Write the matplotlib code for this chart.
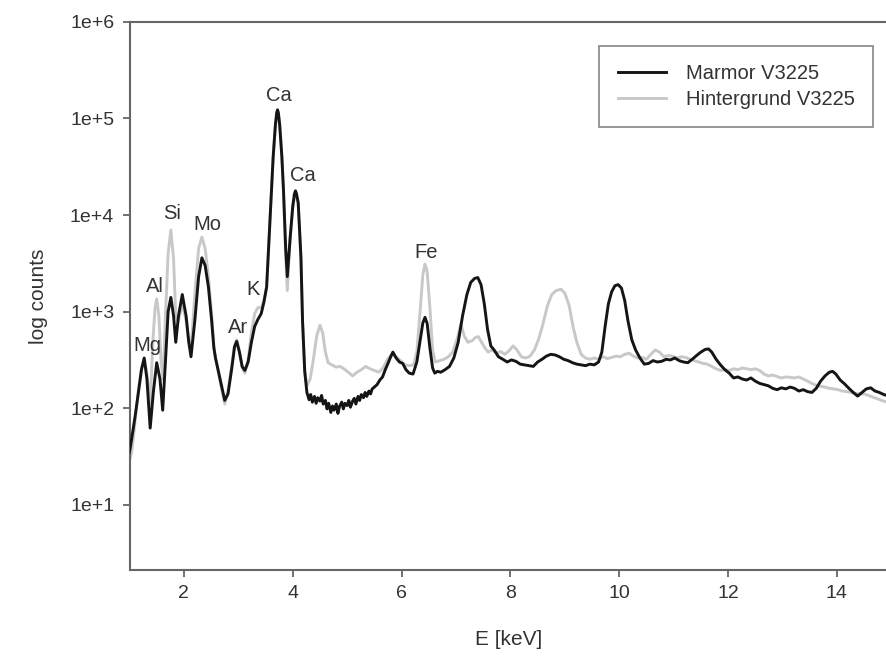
import numpy as np
import matplotlib
matplotlib.use("Agg")
import matplotlib.pyplot as plt
from matplotlib.ticker import NullLocator

plt.rcParams['font.family'] = ['Liberation Sans', 'DejaVu Sans']

# ── Spektrum Marmor V3225 ───────────────────────────────────────────
E_marmor = [
    1.00, 1.04, 1.10, 1.16, 1.22, 1.27, 1.32, 1.38, 1.44, 1.50, 1.56, 1.61,
    1.66, 1.71, 1.76, 1.81, 1.85, 1.90, 1.97, 2.04, 2.09, 2.13, 2.20, 2.27,
    2.33, 2.39, 2.45, 2.51, 2.55, 2.58, 2.62, 2.68, 2.75, 2.81, 2.88, 2.93,
    2.97, 3.02, 3.07, 3.12, 3.18, 3.24, 3.30, 3.36, 3.42, 3.47, 3.52, 3.58,
    3.64, 3.68, 3.705, 3.72, 3.735, 3.76, 3.80, 3.83, 3.87, 3.90, 3.95, 4.00,
    4.03, 4.05, 4.07, 4.10, 4.15, 4.18, 4.22, 4.26,
    4.30, 4.33, 4.36, 4.40, 4.43, 4.46, 4.50, 4.53, 4.56, 4.60, 4.63, 4.66,
    4.70, 4.73, 4.76, 4.80, 4.83, 4.86, 4.90, 4.93, 4.96, 5.00, 5.03, 5.06,
    5.10, 5.13, 5.16, 5.20, 5.23, 5.26, 5.30, 5.33, 5.36, 5.40, 5.43, 5.46,
    5.50, 5.55, 5.60, 5.65, 5.70, 5.75, 5.80,
    5.84, 5.90, 5.96, 6.02, 6.08, 6.14, 6.21, 6.28, 6.34, 6.39, 6.43, 6.47,
    6.52, 6.57, 6.61, 6.66, 6.72, 6.80, 6.88, 6.96, 7.04, 7.12, 7.20, 7.27,
    7.34, 7.40, 7.46, 7.52, 7.58, 7.64, 7.70, 7.78, 7.86, 7.94, 8.02, 8.10,
    8.18, 8.26, 8.34, 8.42, 8.50, 8.58, 8.66, 8.74, 8.82, 8.90, 8.98, 9.06,
    9.14, 9.22, 9.30, 9.38, 9.46, 9.54, 9.62, 9.68, 9.74, 9.80, 9.86, 9.92,
    9.98, 10.04, 10.10, 10.16, 10.23, 10.30, 10.38, 10.46, 10.54, 10.62,
    10.70, 10.78, 10.86, 10.94, 11.02, 11.10, 11.18, 11.26, 11.34, 11.42,
    11.50, 11.58, 11.64, 11.70, 11.78, 11.86, 11.94, 12.02, 12.10, 12.18,
    12.26, 12.34, 12.42, 12.50, 12.58, 12.66, 12.74, 12.82, 12.90, 12.98,
    13.06, 13.14, 13.22, 13.30, 13.38, 13.46, 13.54, 13.62, 13.70, 13.78,
    13.86, 13.92, 13.98, 14.06, 14.14, 14.22, 14.30, 14.38, 14.46, 14.54,
    14.62, 14.70, 14.78, 14.86, 14.92,
]
counts_marmor = [
    35, 48, 80, 140, 250, 330, 200, 62, 150, 295, 200, 95,
    300, 1000, 1400, 900, 480, 900, 1500, 900, 480, 340, 800, 2300,
    3600, 3000, 1800, 800, 420, 330, 260, 180, 120, 140, 260, 430,
    490, 380, 270, 245, 300, 480, 700, 830, 950, 1250, 1800, 8300,
    40000, 85000, 115000, 123000, 115000, 85000, 40000, 18000, 4500, 2300, 5600, 12300,
    16500, 17800, 16500, 13400, 3700, 800, 240, 145,
    122, 138, 115, 132, 112, 128, 118, 135, 110, 120, 98, 112,
    90, 105, 95, 110, 88, 104, 115, 98, 112, 106, 120, 102,
    118, 126, 110, 132, 120, 138, 128, 145, 132, 150, 140, 158,
    165, 175, 195, 210, 250, 290, 340,
    380, 330, 300, 290, 250, 230, 225, 300, 500, 760, 870, 750,
    420, 260, 230, 240, 235, 250, 270, 330, 480, 900, 1500, 2000,
    2200, 2250, 1900, 1200, 650, 440, 400, 340, 320, 300, 315, 305,
    285, 280, 275, 270, 300, 320, 345, 360, 355, 340, 320, 310,
    295, 285, 280, 275, 285, 280, 300, 380, 700, 1200, 1600, 1850,
    1900, 1750, 1300, 800, 510, 400, 330, 285, 290, 310,
    300, 305, 320, 315, 330, 310, 300, 295, 320, 350,
    380, 405, 410, 380, 320, 280, 250, 230, 205, 210,
    200, 195, 205, 190, 180, 175, 170, 160, 155, 162,
    158, 165, 160, 150, 155, 148, 145, 160, 190, 215,
    235, 240, 225, 195, 178, 160, 145, 133, 145, 158,
    162, 150, 145, 138, 135,
]

# ── Spektrum Hintergrund V3225 ──────────────────────────────────────
E_hinter = [
    1.00, 1.04, 1.10, 1.16, 1.22, 1.27, 1.32, 1.38, 1.43, 1.47, 1.50, 1.54,
    1.58, 1.62, 1.66, 1.71, 1.76, 1.81, 1.85, 1.90, 1.97, 2.04, 2.09, 2.13,
    2.20, 2.27, 2.33, 2.39, 2.45, 2.51, 2.55, 2.58, 2.62, 2.68, 2.75, 2.81,
    2.88, 2.93, 2.97, 3.02, 3.07, 3.12, 3.18, 3.24, 3.30, 3.36, 3.42, 3.47,
    3.52, 3.58, 3.64, 3.69, 3.72, 3.76, 3.80, 3.83, 3.87, 3.90, 3.95, 4.00,
    4.05, 4.10, 4.15, 4.18, 4.22, 4.26, 4.32, 4.38, 4.44, 4.50, 4.55, 4.60,
    4.65, 4.72, 4.80, 4.87, 4.94, 5.02, 5.10, 5.18, 5.26, 5.34, 5.42, 5.50,
    5.58, 5.66, 5.74, 5.82, 5.90, 5.98, 6.06, 6.14, 6.22, 6.28, 6.34, 6.39,
    6.43, 6.47, 6.52, 6.57, 6.62, 6.70, 6.78, 6.86, 6.94, 7.02, 7.09, 7.15,
    7.22, 7.30, 7.36, 7.41, 7.47, 7.53, 7.59, 7.66, 7.74, 7.82, 7.90, 7.98,
    8.05, 8.12, 8.20, 8.28, 8.36, 8.44, 8.52, 8.60, 8.68, 8.76, 8.84, 8.93,
    9.00, 9.08, 9.15, 9.22, 9.30, 9.38, 9.46, 9.54, 9.62, 9.70, 9.78, 9.86,
    9.94, 10.02, 10.10, 10.18, 10.26, 10.34, 10.42, 10.50, 10.58, 10.66,
    10.74, 10.82, 10.90, 10.98, 11.06, 11.14, 11.22, 11.30, 11.38, 11.46,
    11.54, 11.62, 11.70, 11.78, 11.86, 11.94, 12.02, 12.10, 12.18, 12.26,
    12.34, 12.42, 12.50, 12.58, 12.66, 12.74, 12.82, 12.90, 12.98, 13.06,
    13.14, 13.22, 13.30, 13.38, 13.46, 13.54, 13.62, 13.70, 13.78, 13.86,
    13.94, 14.02, 14.10, 14.18, 14.26, 14.34, 14.42, 14.50, 14.58, 14.66,
    14.74, 14.82, 14.92,
]
counts_hinter = [
    28, 35, 70, 150, 260, 320, 230, 110, 500, 1100, 1350, 900,
    300, 200, 900, 4000, 7000, 3500, 900, 800, 1200, 800, 470, 400,
    1500, 4500, 5900, 4500, 2300, 900, 450, 330, 260, 170, 110, 150,
    280, 450, 510, 390, 260, 230, 320, 600, 950, 1100, 1100, 1300,
    1800, 8300, 40000, 94000, 121000, 93000, 40000, 17000, 3700, 1650, 5500, 12000,
    17500, 13000, 3600, 780, 240, 170, 200, 320, 560, 720, 600, 380,
    295, 280, 265, 270, 255, 235, 215, 235, 250, 270, 255, 245,
    235, 260, 320, 360, 340, 310, 280, 275, 280, 380, 1000, 2400,
    3100, 2600, 1100, 400, 300, 310, 320, 340, 380, 520, 740, 560,
    480, 500, 540, 550, 480, 420, 380, 400, 370, 385, 360, 395,
    440, 400, 340, 330, 345, 400, 520, 750, 1150, 1500, 1650, 1700,
    1550, 1150, 700, 480, 360, 330, 320, 330, 320, 340, 325, 335,
    345, 340, 360, 370, 345, 330, 335, 320, 360, 400,
    380, 340, 350, 345, 330, 340, 335, 320, 310, 300,
    290, 285, 270, 255, 245, 250, 245, 255, 250, 260,
    255, 250, 255, 245, 225, 215, 220, 212, 205, 210,
    208, 205, 210, 200, 190, 180, 172, 168, 165, 160,
    158, 155, 150, 148, 145, 142, 140, 140, 135, 130,
    125, 120, 115,
]

# Beschriftung der Linien
peak_namen = ['Mg', 'Al', 'Si', 'Mo', 'Ar', 'K', 'Ca', 'Ca', 'Fe']
peak_E     = [1.33, 1.47, 1.78, 2.44, 2.99, 3.27, 3.75, 4.19, 6.45]
peak_y     = [440, 1820, 10300, 7900, 690, 1700, 172000, 25700, 4070]

y_ticks = [1e1, 1e2, 1e3, 1e4, 1e5, 1e6]
y_tick_labels = ['1e+1', '1e+2', '1e+3', '1e+4', '1e+5', '1e+6']
x_ticks = [2, 4, 6, 8, 10, 12, 14]

# ── Grafik ─────────────────────────────────────────────────────────
fig = plt.figure(figsize=(8.87, 6.64), dpi=100)
ax = fig.add_axes([0.146, 0.1416, 0.854, 0.8253])

ax.plot(E_hinter, counts_hinter, color='#c8c8c8', linewidth=2.1,
        label='Hintergrund V3225', zorder=2)
ax.plot(E_marmor, counts_marmor, color='#151515', linewidth=2.1,
        label='Marmor V3225', zorder=3)

for name, e, yv in zip(peak_namen, peak_E, peak_y):
    ax.text(e, yv, name, ha='center', va='center', fontsize=14.5, color='#333333')

ax.set_yscale('log')
ax.set_xlim(1, 14.92)
ax.set_ylim(2.1, 1e6)
ax.set_yticks(y_ticks)
ax.set_yticklabels(y_tick_labels)
ax.yaxis.set_minor_locator(NullLocator())
ax.set_xticks(x_ticks)

ax.tick_params(axis='both', direction='out', length=5, width=1.3,
               color='#666666', labelsize=14, labelcolor='#333333', pad=6)
for side in ['left', 'bottom', 'top']:
    ax.spines[side].set_color('#666666')
    ax.spines[side].set_linewidth(1.5)
ax.spines['right'].set_visible(False)

ax.set_xlabel('E [keV]', fontsize=15, color='#333333', labelpad=20)
ax.set_ylabel('log counts', fontsize=15, color='#333333', labelpad=16)

handles, labels = ax.get_legend_handles_labels()
leg = ax.legend(handles[::-1], labels[::-1], loc='upper right',
                bbox_to_anchor=(0.9815, 0.956), borderaxespad=0,
                fontsize=14.5, frameon=True, fancybox=False,
                handlelength=2.4, handletextpad=1.0, borderpad=0.9,
                labelspacing=0.35)
leg.get_frame().set_edgecolor('#666666')
leg.get_frame().set_linewidth(1.2)
for t in leg.get_texts():
    t.set_color('#333333')

fig.savefig('out.png', dpi=100)
